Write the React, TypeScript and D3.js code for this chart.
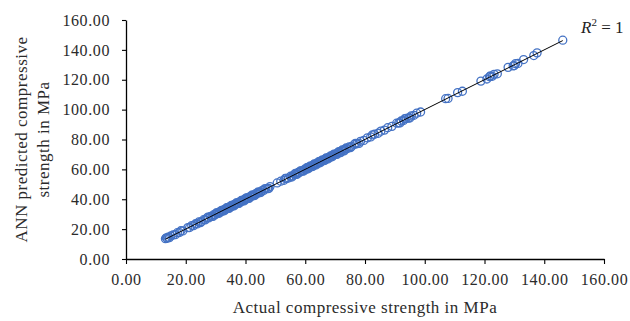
import React, { useRef, useEffect } from 'react';
import * as d3 from 'd3';

// actual vs ANN predicted compressive strength (MPa)
const actual = [
  13.2, 13.5, 13.8, 14.1, 14.5, 15.0, 15.8, 16.5, 17.2, 17.9, 18.4, 19.0, 20.7, 21.3, 22.0, 22.6,
  23.3, 23.8, 24.4, 25.2, 26.0, 26.5, 27.1, 27.7, 28.3, 28.8, 29.4, 29.9, 30.5, 31.0, 31.4, 31.9,
  32.3, 32.7, 33.1, 33.5, 33.9, 34.3, 34.7, 35.1, 35.5, 35.9, 36.3, 36.7, 37.2, 37.6, 38.0, 38.4,
  38.9, 39.3, 39.7, 40.1, 40.6, 41.0, 41.5, 41.9, 42.4, 42.9, 43.4, 43.9, 44.4, 44.9, 45.5, 46.1,
  46.8, 47.4, 48.2, 50.6, 51.8, 52.9, 53.7, 54.4, 55.1, 55.8, 56.4, 57.0, 57.6, 58.1, 58.7, 59.2,
  59.8, 60.3, 60.8, 61.3, 61.8, 62.3, 62.8, 63.3, 63.8, 64.3, 64.8, 65.3, 65.8, 66.3, 66.8, 67.3,
  67.8, 68.3, 68.8, 69.3, 69.8, 70.3, 70.9, 71.5, 72.1, 72.7, 73.3, 74.0, 74.7, 75.5, 76.4, 77.3,
  78.5, 79.6, 80.8, 81.9, 83.2, 84.4, 85.3, 86.5, 87.6, 89.0, 90.6, 91.3, 92.1, 92.9, 93.8, 94.6,
  95.5, 96.4, 97.3, 98.6, 107.0, 107.8, 111.0, 112.6, 118.8, 120.8, 121.7, 122.6, 123.2, 124.3,
  127.9, 129.6, 130.4, 131.2, 133.1, 136.5, 137.6, 146.2,
  24.9, 27.4, 29.1, 30.2, 31.2, 32.0, 32.9, 33.7, 34.5, 35.3, 36.1, 36.9, 37.8, 38.6, 39.5, 40.3,
  41.2, 42.1, 43.1, 44.1, 45.1, 46.4, 47.8, 53.3, 55.5, 56.7, 57.3, 58.4, 59.5, 60.5, 61.0, 61.6,
  62.5, 63.0, 63.6, 64.5, 65.0, 65.6, 66.5, 67.0, 67.6, 68.5, 69.0, 69.6, 70.6, 71.2, 71.8, 72.4,
  73.0, 73.7, 75.1, 76.8, 78.0, 82.5, 91.7, 93.3, 95.0, 122.0, 130.0,
];

const predicted = [
  13.6, 14.2, 13.9, 14.6, 14.3, 15.4, 16.1, 16.3, 17.6, 17.7, 18.9, 18.8, 21.0, 21.1, 22.4, 22.3,
  23.6, 23.5, 24.8, 25.0, 26.3, 26.2, 27.5, 27.5, 28.6, 28.6, 29.7, 29.7, 30.8, 30.8, 31.7, 31.7,
  32.6, 32.5, 33.4, 33.3, 34.2, 34.1, 35.0, 34.9, 35.8, 35.7, 36.6, 36.5, 37.5, 37.4, 38.3, 38.2,
  39.2, 39.1, 40.0, 39.9, 40.9, 40.8, 41.8, 41.7, 42.7, 42.7, 43.7, 43.7, 44.7, 44.7, 45.8, 45.9,
  47.1, 47.2, 48.5, 50.9, 52.1, 52.7, 54.0, 54.2, 55.4, 55.6, 56.7, 56.8, 57.9, 57.9, 59.0, 59.0,
  60.1, 60.1, 61.1, 61.1, 62.1, 62.1, 63.1, 63.1, 64.1, 64.1, 65.1, 65.1, 66.1, 66.1, 67.1, 67.1,
  68.1, 68.1, 69.1, 69.1, 70.1, 70.1, 71.2, 71.3, 72.4, 72.5, 73.6, 73.8, 75.0, 75.3, 76.7, 77.1,
  78.8, 79.4, 81.1, 81.7, 83.5, 84.2, 85.6, 86.3, 87.9, 88.8, 90.9, 91.1, 92.4, 92.7, 94.1, 94.4,
  95.8, 96.2, 97.6, 98.4, 107.3, 107.5, 111.4, 112.3, 119.1, 120.5, 122.0, 122.3, 123.6, 124.0,
  128.3, 129.3, 130.8, 130.9, 133.5, 136.2, 138.0, 146.5,
  24.3, 28.0, 28.5, 30.8, 30.6, 32.6, 32.3, 34.3, 33.9, 35.9, 35.5, 37.5, 37.2, 39.2, 38.9, 40.9,
  40.6, 42.7, 42.5, 44.7, 44.5, 47.0, 47.2, 53.9, 54.9, 57.3, 56.7, 59.0, 58.9, 61.1, 60.4, 62.2,
  61.9, 63.6, 63.0, 65.1, 64.4, 66.2, 65.9, 67.6, 67.0, 69.1, 68.4, 70.2, 70.0, 71.8, 71.2, 73.0,
  72.4, 74.3, 74.5, 77.4, 77.4, 83.1, 91.1, 93.9, 94.4, 122.6, 129.5,
];

const xTicks = [0, 20, 40, 60, 80, 100, 120, 140, 160];
const yTicks = [0, 20, 40, 60, 80, 100, 120, 140, 160];

const width = 630;
const height = 321;
const serif = '"Liberation Serif", "Times New Roman", serif';

const App = () => {
  const chartRef = useRef<SVGSVGElement>(null);

  useEffect(() => {
    const margin = { top: 20, right: 26, bottom: 62, left: 126 };
    const innerW = width - margin.left - margin.right;
    const innerH = height - margin.top - margin.bottom;

    const svg = d3.select(chartRef.current);
    svg.selectAll('*').remove();

    const g = svg.append('g').attr('transform', `translate(${margin.left},${margin.top})`);

    const xScale = d3.scaleLinear().domain([0, 160]).range([0, innerW]);
    const yScale = d3.scaleLinear().domain([0, 160]).range([innerH, 0]);

    const fmt = d3.format('.2f');

    // x axis
    const xAxis = g
      .append('g')
      .attr('transform', `translate(0,${innerH})`)
      .call(d3.axisBottom(xScale).tickValues(xTicks).tickFormat((d) => fmt(d as number)).tickSize(5).tickSizeOuter(0).tickPadding(10));
    xAxis.select('.domain').attr('stroke', '#000').attr('stroke-width', 1.3);
    xAxis.selectAll('.tick line').attr('stroke', '#000').attr('stroke-width', 1.1);
    xAxis.selectAll('.tick text').attr('font-family', serif).attr('font-size', 16).attr('letter-spacing', 0.6).attr('fill', '#2b2b2b');

    // y axis
    const yAxis = g
      .append('g')
      .call(d3.axisLeft(yScale).tickValues(yTicks).tickFormat((d) => fmt(d as number)).tickSize(4).tickSizeOuter(0).tickPadding(12));
    yAxis.select('.domain').attr('stroke', '#000').attr('stroke-width', 1.3);
    yAxis.selectAll('.tick line').attr('stroke', '#000').attr('stroke-width', 1.1);
    yAxis.selectAll('.tick text').attr('font-family', serif).attr('font-size', 16).attr('letter-spacing', 0.6).attr('fill', '#2b2b2b');

    // points
    const pts = actual.map((a, i) => ({ x: a, y: predicted[i] }));
    g.append('g')
      .selectAll('circle')
      .data(pts)
      .join('circle')
      .attr('cx', (d) => xScale(d.x))
      .attr('cy', (d) => yScale(d.y))
      .attr('r', 4)
      .attr('fill', 'none')
      .attr('stroke', '#4472C4')
      .attr('stroke-width', 1.3);

    // linear trend line
    const mx = d3.mean(pts, (d) => d.x) as number;
    const my = d3.mean(pts, (d) => d.y) as number;
    const slope =
      (d3.sum(pts, (d) => (d.x - mx) * (d.y - my)) as number) / (d3.sum(pts, (d) => (d.x - mx) ** 2) as number);
    const icpt = my - slope * mx;
    const [x0, x1] = d3.extent(actual) as [number, number];
    const line = d3
      .line<number>()
      .x((d) => xScale(d))
      .y((d) => yScale(slope * d + icpt));
    g.append('path').datum([x0, x1]).attr('d', line).attr('stroke', '#000').attr('stroke-width', 1).attr('fill', 'none');

    // R² label
    const r2 = svg.append('text').attr('x', 581).attr('y', 33).attr('font-family', serif).attr('font-size', 17).attr('fill', '#222');
    r2.append('tspan').attr('font-style', 'italic').text('R');
    r2.append('tspan').attr('font-size', 11).attr('dy', -7).text('2');
    r2.append('tspan').attr('dy', 7).text(' = 1');

    // axis titles
    svg
      .append('text')
      .attr('x', margin.left + innerW / 2)
      .attr('y', 313)
      .attr('text-anchor', 'middle')
      .attr('font-family', serif)
      .attr('font-size', 17)
      .attr('letter-spacing', 0.5)
      .attr('fill', '#2b2b2b')
      .text('Actual compressive strength in MPa');

    const yTitle = svg
      .append('text')
      .attr('transform', `translate(0,${margin.top + innerH / 2}) rotate(-90)`)
      .attr('text-anchor', 'middle')
      .attr('font-family', serif)
      .attr('font-size', 17)
      .attr('letter-spacing', 0.5)
      .attr('fill', '#2b2b2b');
    yTitle.append('tspan').attr('x', 0).attr('y', 27).text('ANN predicted compressive');
    yTitle.append('tspan').attr('x', 0).attr('y', 49).text('strength in MPa');
  }, []);

  return (
    <svg
      ref={chartRef}
      width={width}
      height={height}
      style={{ position: 'absolute', left: 0, top: 0, background: '#fff' }}
    />
  );
};

export default App;
